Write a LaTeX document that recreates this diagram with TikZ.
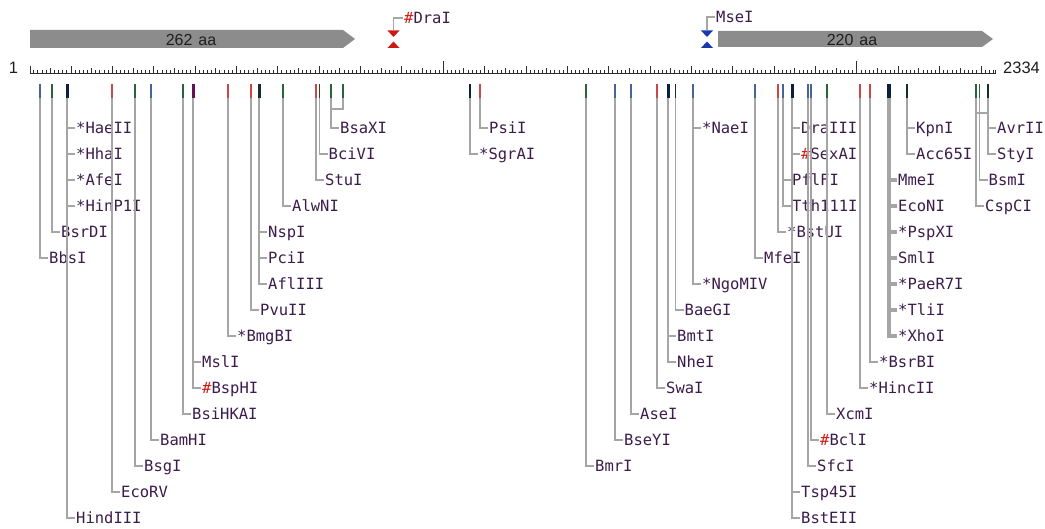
\documentclass[tikz,border=0pt]{standalone}
\usepackage{fontspec}
\setmainfont{Liberation Sans}
\newfontfamily\labfont{DejaVu Sans Mono}
\usetikzlibrary{calc}

\definecolor{labcol}{RGB}{60,28,75}
\definecolor{hashred}{RGB}{205,30,20}
\definecolor{conncol}{RGB}{165,165,165}
\definecolor{rulecol}{RGB}{45,45,45}
\definecolor{orfgray}{RGB}{140,140,140}
\definecolor{orfink}{RGB}{30,30,30}
\definecolor{tblue}{RGB}{70,100,150}
\definecolor{tgreen}{RGB}{40,100,55}
\definecolor{tnavy}{RGB}{12,32,62}
\definecolor{tred}{RGB}{205,70,70}
\definecolor{tpurple}{RGB}{95,20,85}
\definecolor{tdark}{RGB}{20,45,45}
\definecolor{tolive}{RGB}{70,60,30}
\definecolor{cutred}{RGB}{205,25,20}
\definecolor{cutblue}{RGB}{25,55,175}

\newcommand\labsize{\labfont\fontsize{15.5pt}{16pt}\selectfont}
\newcommand\hash{\textcolor{hashred}{\#}}

\tikzset{
  lab/.style={font=\labsize, text=labcol, anchor=west, inner xsep=1pt,
    inner ysep=0pt, text height=11pt, text depth=0pt},
  conn/.style={draw=conncol, line width=1.2pt},
  connw/.style={draw=conncol, line width=2.4pt},
  connx/.style={draw=conncol, line width=3.2pt},
  orftxt/.style={font=\fontsize{16pt}{18pt}\selectfont, text=orfink, inner sep=0pt},
  numtxt/.style={font=\fontsize{16.5pt}{18pt}\selectfont, text=orfink, inner sep=0pt},
  rtick/.style={draw=rulecol, line width=0.9pt}
}

% cut site: coordinate name, x position, tick colour, tick width
\newcommand\site[4]{%
  \draw[draw=#3, line width=#4] (#2,-84) -- (#2,-98);
  \coordinate (#1) at (#2,-98);}
% enzyme label: [connector style] node name, site, row, text
\newcommand\enz[5][conn]{%
  \path (#3) ++(8,{-30-26*(#4)}) node[lab] (#2) {#5};
  \draw[#1] (#3) |- (#2.west);}

\begin{document}
\begin{tikzpicture}[x=1pt,y=1pt]
\useasboundingbox (0,0) rectangle (1045,-529);
\fill[white] (0,0) rectangle (1045,-529);

% open reading frames
\fill[orfgray] (30,-30) -- (343,-30) -- (355,-39) -- (343,-48) -- (30,-48) -- cycle;
\node[orftxt] (orfA) at (191,-39.5) {262\hspace{6pt}aa};
\fill[orfgray] (718,-31) -- (982,-31) -- (993,-39) -- (982,-47) -- (718,-47) -- cycle;
\node[orftxt] (orfB) at (852,-39.5) {220\hspace{6pt}aa};

% ruler
\draw[rulecol, line width=1pt] (30,-74) -- (995,-74);
\draw[rtick] (30,-74) -- ++(0,8);
\draw[rtick] (995,-74) -- ++(0,4);
\foreach \b in {10,20,...,2330} {
  \pgfmathsetmacro\xx{30+(\b-1)*0.41363}
  \pgfmathsetmacro\hh{mod(\b,1000)==0 ? 12.5 : (mod(\b,100)==0 ? 8 : (mod(\b,50)==0 ? 5.5 : 3.5))}
  \draw[rtick] (\xx,-74) -- ++(0,\hh);
}
\node[numtxt] (first) at (13.5,-68) {1};
\node[numtxt] (last) at (1021.5,-68) {2334};

% single cutters above the ruler
\fill[cutred] (387.5,-30.5) -- (399.5,-30.5) -- (393.5,-37) -- cycle;
\fill[cutred] (387.5,-48) -- (399.5,-48) -- (393.5,-41.5) -- cycle;
\coordinate (draIcut) at (393.5,-30.5);
\node[lab] (DraI) at (403,-18) {\hash DraI};
\draw[conn] (draIcut) |- (DraI.west);

\fill[cutblue] (701,-30.5) -- (713,-30.5) -- (707,-37) -- cycle;
\fill[cutblue] (701,-48) -- (713,-48) -- (707,-41.5) -- cycle;
\coordinate (mseIcut) at (707,-30.5);
\node[lab] (MseI) at (715,-17) {MseI};
\draw[conn] (mseIcut) |- (MseI.west);

% cut sites below the ruler
\site{s40}{40}{tblue}{1.8pt}
\site{s52}{52}{tgreen}{1.8pt}
\site{s67}{67}{tnavy}{3pt}
\site{s112}{112}{tred}{1.8pt}
\site{s135}{135}{tgreen}{1.8pt}
\site{s151}{151}{tblue}{1.8pt}
\site{s183}{183}{tgreen}{1.8pt}
\site{s193}{193}{tpurple}{3pt}
\site{s228}{228}{tred}{1.8pt}
\site{s251}{251}{tred}{1.8pt}
\site{s259}{259}{tdark}{3pt}
\site{s283}{283}{tgreen}{1.8pt}
\site{s316}{316}{tred}{1.8pt}
\site{s319}{319.5}{tolive}{1.8pt}
\site{s331}{331}{tgreen}{1.8pt}
\site{s343}{343}{tgreen}{1.8pt}
\site{s470}{470}{tnavy}{1.8pt}
\site{s480}{480}{tred}{1.8pt}
\site{s586}{586}{tgreen}{1.8pt}
\site{s615}{615}{tblue}{1.8pt}
\site{s631}{631}{tblue}{1.8pt}
\site{s657}{657}{tred}{1.8pt}
\site{s668}{668}{tnavy}{3pt}
\site{s676}{675.5}{tdark}{1.8pt}
\site{s693}{693}{tblue}{1.8pt}
\site{s755}{755}{tblue}{1.8pt}
\site{s778}{778}{tred}{1.8pt}
\site{s783}{783}{tblue}{1.8pt}
\site{s792}{792}{tnavy}{3pt}
\site{s808}{808}{tblue}{1.8pt}
\site{s811}{811}{tblue}{1.8pt}
\site{s827}{827}{tgreen}{1.8pt}
\site{s860}{860}{tred}{1.8pt}
\site{s870}{870}{tred}{1.8pt}
\site{s889}{889}{tnavy}{4pt}
\site{s907}{907}{tdark}{2.2pt}
\site{s976}{976}{tgreen}{1.8pt}
\site{s979}{979.5}{tgreen}{1.8pt}
\site{s988}{988}{tdark}{2.2pt}

% enzymes cutting twice on one side: brackets
\draw[conn] (s343) |- ($(s331)+(0,-11)$) -- (s331);
\draw[conn] (s988) |- ($(s976)+(0,-15)$);

% left block
\enz{BbsI}{s40}{5}{BbsI}
\enz{BsrDI}{s52}{4}{BsrDI}
\enz[connw]{HaeII}{s67}{0}{*HaeII}
\enz[connw]{HhaI}{s67}{1}{*HhaI}
\enz[connw]{AfeI}{s67}{2}{*AfeI}
\enz[connw]{HinPI}{s67}{3}{*HinP1I}
\enz[connw]{HindIII}{s67}{15}{HindIII}
\enz{EcoRV}{s112}{14}{EcoRV}
\enz{BsgI}{s135}{13}{BsgI}
\enz{BamHI}{s151}{12}{BamHI}
\enz{BsiHKAI}{s183}{11}{BsiHKAI}
\enz[connw]{BspHI}{s193}{10}{\hash BspHI}
\enz[connw]{MslI}{s193}{9}{MslI}
\enz{BmgBI}{s228}{8}{*BmgBI}
\enz{PvuII}{s251}{7}{PvuII}
\enz[connw]{AflIII}{s259}{6}{AflIII}
\enz[connw]{PciI}{s259}{5}{PciI}
\enz[connw]{NspI}{s259}{4}{NspI}
\enz{AlwNI}{s283}{3}{AlwNI}
\enz{StuI}{s316}{2}{StuI}
\enz{BciVI}{s319}{1}{BciVI}
\enz{BsaXI}{s331}{0}{BsaXI}

% middle block
\enz{PsiI}{s480}{0}{PsiI}
\enz{SgrAI}{s470}{1}{*SgrAI}

% right block
\enz{BmrI}{s586}{13}{BmrI}
\enz{BseYI}{s615}{12}{BseYI}
\enz{AseI}{s631}{11}{AseI}
\enz{SwaI}{s657}{10}{SwaI}
\enz[connw]{NheI}{s668}{9}{NheI}
\enz[connw]{BmtI}{s668}{8}{BmtI}
\enz{BaeGI}{s676}{7}{BaeGI}
\enz{NaeI}{s693}{0}{*NaeI}
\enz{NgoMIV}{s693}{6}{*NgoMIV}
\enz{MfeI}{s755}{5}{MfeI}
\enz{BstUI}{s778}{4}{*BstUI}
\enz{TthI}{s783}{3}{Tth111I}
\enz{PflFI}{s783}{2}{PflFI}
\enz[connw]{DraIII}{s792}{0}{DraIII}
\enz[connw]{SexAI}{s792}{1}{\hash SexAI}
\enz[connw]{TspI}{s792}{14}{Tsp45I}
\enz[connw]{BstEII}{s792}{15}{BstEII}
\enz{SfcI}{s808}{13}{SfcI}
\enz{BclI}{s811}{12}{\hash BclI}
\enz{XcmI}{s827}{11}{XcmI}
\enz{HincII}{s860}{10}{*HincII}
\enz{BsrBI}{s870}{9}{*BsrBI}
\enz[connx]{MmeI}{s889}{2}{MmeI}
\enz[connx]{EcoNI}{s889}{3}{EcoNI}
\enz[connx]{PspXI}{s889}{4}{*PspXI}
\enz[connx]{SmlI}{s889}{5}{SmlI}
\enz[connx]{PaeRI}{s889}{6}{*PaeR7I}
\enz[connx]{TliI}{s889}{7}{*TliI}
\enz[connx]{XhoI}{s889}{8}{*XhoI}
\enz[connw]{KpnI}{s907}{0}{KpnI}
\enz[connw]{AccI}{s907}{1}{Acc65I}
\enz[connw]{AvrII}{s988}{0}{AvrII}
\enz[connw]{StyI}{s988}{1}{StyI}
\enz{BsmI}{s979}{2}{BsmI}
\enz{CspCI}{s976}{3}{CspCI}
\end{tikzpicture}
\end{document}
